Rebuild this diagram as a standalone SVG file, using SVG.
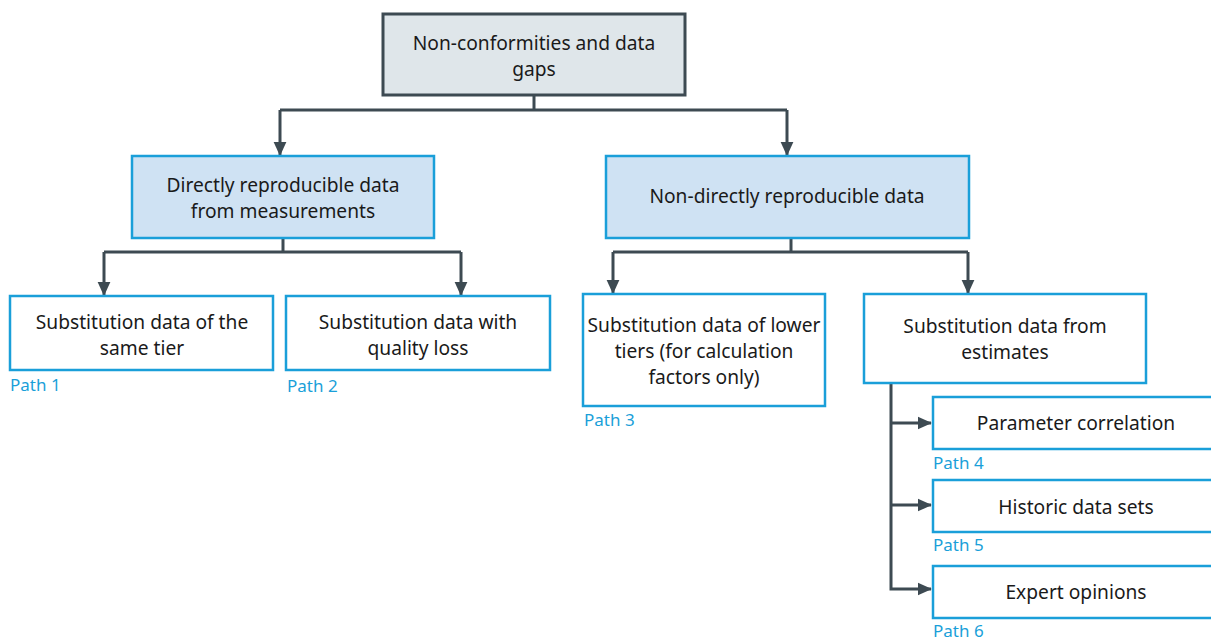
<svg xmlns="http://www.w3.org/2000/svg" width="1211" height="640" viewBox="0 0 1211 640">
<style>
.t{font-family:"Noto Sans","Open Sans",sans-serif;font-size:19.2px;fill:#1a1a1a;text-anchor:middle}
.p{font-family:"Noto Sans","Open Sans",sans-serif;font-size:17px;fill:#1a9fd9}
.box{fill:#ffffff;stroke:#1a9fd9;stroke-width:2.5}
.blue{fill:#cfe2f3;stroke:#1a9fd9;stroke-width:2.5}
.grey{fill:#dfe6ea;stroke:#3d4a52;stroke-width:3}
.c{fill:none;stroke:#3d4a52;stroke-width:3}
</style>
<defs>
<marker id="ah" markerWidth="5" markerHeight="5" refX="4.5" refY="2.5" orient="auto" markerUnits="strokeWidth"><path d="M0,0.3 L4.8,2.5 L0,4.7 Z" fill="#3d4a52"/></marker>
</defs>
<g id="connectors">
<path class="c" d="M534,95 V110"/>
<path class="c" d="M280,110 H787"/>
<path class="c" d="M280,110 V155" marker-end="url(#ah)"/>
<path class="c" d="M787,110 V155" marker-end="url(#ah)"/>
<path class="c" d="M283,238 V252"/>
<path class="c" d="M104,252 H461"/>
<path class="c" d="M104,252 V295" marker-end="url(#ah)"/>
<path class="c" d="M461,252 V295" marker-end="url(#ah)"/>
<path class="c" d="M791,238 V252"/>
<path class="c" d="M613,252 H968"/>
<path class="c" d="M613,252 V293" marker-end="url(#ah)"/>
<path class="c" d="M968,252 V293" marker-end="url(#ah)"/>
<path class="c" d="M891,383 V589 H931" marker-end="url(#ah)"/>
<path class="c" d="M891,423 H931" marker-end="url(#ah)"/>
<path class="c" d="M891,505 H931" marker-end="url(#ah)"/>
</g>
<g id="n0">
<rect class="grey" x="383" y="14" width="302" height="81"/>
<text class="t" x="534" y="50">Non-conformities and data</text>
<text class="t" x="534" y="76">gaps</text>
</g>
<g id="n1">
<rect class="blue" x="132" y="156" width="302" height="82"/>
<text class="t" x="283" y="192">Directly reproducible data</text>
<text class="t" x="283" y="218">from measurements</text>
</g>
<g id="n2">
<rect class="blue" x="606" y="156" width="363" height="82"/>
<text class="t" x="787" y="203">Non-directly reproducible data</text>
</g>
<g id="n3">
<rect class="box" x="10" y="296" width="263" height="74"/>
<text class="t" x="142" y="329">Substitution data of the</text>
<text class="t" x="142" y="355">same tier</text>
<text class="p" x="10" y="391">Path 1</text>
</g>
<g id="n4">
<rect class="box" x="286" y="296" width="264" height="74"/>
<text class="t" x="418" y="329">Substitution data with</text>
<text class="t" x="418" y="355">quality loss</text>
<text class="p" x="287" y="392">Path 2</text>
</g>
<g id="n5">
<rect class="box" x="583" y="294" width="242" height="112"/>
<text class="t" x="704" y="332">Substitution data of lower</text>
<text class="t" x="704" y="358">tiers (for calculation</text>
<text class="t" x="704" y="384">factors only)</text>
<text class="p" x="584" y="426">Path 3</text>
</g>
<g id="n6">
<rect class="box" x="864" y="294" width="282" height="89"/>
<text class="t" x="1005" y="333">Substitution data from</text>
<text class="t" x="1005" y="359">estimates</text>
</g>
<g id="n7">
<rect class="box" x="933" y="397" width="290" height="52"/>
<text class="t" x="1076" y="430">Parameter correlation</text>
<text class="p" x="933" y="469">Path 4</text>
</g>
<g id="n8">
<rect class="box" x="933" y="480" width="290" height="52"/>
<text class="t" x="1076" y="514">Historic data sets</text>
<text class="p" x="933" y="551">Path 5</text>
</g>
<g id="n9">
<rect class="box" x="933" y="566" width="290" height="52"/>
<text class="t" x="1076" y="599">Expert opinions</text>
<text class="p" x="933" y="637">Path 6</text>
</g>
</svg>
